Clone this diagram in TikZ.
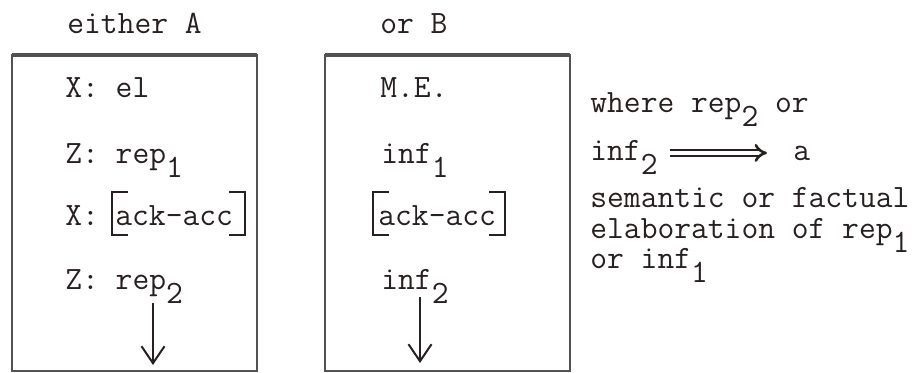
\documentclass[tikz,border=0pt]{standalone}
\usetikzlibrary{arrows.meta}
\definecolor{ink}{RGB}{40,32,32}
\newcommand{\dnsub}[1]{\raisebox{-7pt}{#1}}
\tikzset{
  tt/.style={anchor=base west, inner sep=0pt, text=ink,
    font=\fontsize{16.3}{20}\selectfont\ttfamily},
  frame/.style={draw=black!68, line width=1.3pt},
  bra/.style={draw=ink, line width=1pt},
  down/.style={draw=ink, line width=1pt, -{Straight Barb[length=8.5pt,width=11.5pt]}},
  implies/.style={draw=ink, double, double distance=1.6pt, line width=1.3pt,
    -{Implies}, shorten <=6pt, shorten >=13pt},
}
\begin{document}
\begin{tikzpicture}[x=0.5pt, y=-0.5pt]
  \useasboundingbox (0,0) rectangle (920,372);
  % the two frames
  \foreach \l/\r in {12/257, 325/570} {
    \draw[frame] (\l,371) rectangle (\r,55);
    \draw[frame, line width=1.8pt] (\l,55) -- (\r,55);
  }
  \node[tt] (either) at (67,33) {either A};
  \node[tt] (orB) at (380,33) {or B};

  % column A
  \node[tt] (xel) at (65,97) {X: el};
  \node[tt] (zrepA) at (65,163) {Z: rep\dnsub{1}};
  \node[tt] (xack) at (65,225) {X:};
  \node[tt] (ackA) at (115,225) {ack-acc};
  \node[tt] (zrepB) at (65,289) {Z: rep\dnsub{2}};
  \draw[bra] (128,192) -- (112,192) -- (112,235) -- (128,235);
  \draw[bra] (229,192) -- (245,192) -- (245,235) -- (229,235);
  \coordinate (downA-from) at (153,303);
  \coordinate (downA-to) at (153,365);
  \draw[down] (downA-from) -- (downA-to);

  % column B
  \node[tt] (me) at (380,97) {M.E.};
  \node[tt] (infA) at (381,163) {inf\dnsub{1}};
  \node[tt] (ackB) at (378,225) {ack-acc};
  \node[tt] (infB) at (381,289) {inf\dnsub{2}};
  \draw[bra] (389,192) -- (373,192) -- (373,235) -- (389,235);
  \draw[bra] (489,192) -- (505,192) -- (505,235) -- (489,235);
  \coordinate (downB-from) at (420,297);
  \coordinate (downB-to) at (420,363);
  \draw[down] (downB-from) -- (downB-to);

  % note on the right
  \node[tt] (where) at (590,112) {where rep\dnsub{2} or};
  \node[tt] (inf2) at (590,160) {inf\dnsub{2}};
  \node[tt] (aword) at (793,160) {a};
  \draw[implies] (inf2.east |- aword.center) -- (aword.west);
  \node[tt] (sem) at (590,207) {semantic or factual};
  \node[tt] (elab) at (590,238) {elaboration of rep\dnsub{1}};
  \node[tt] (orinf) at (590,268) {or inf\dnsub{1}};
\end{tikzpicture}
\end{document}
